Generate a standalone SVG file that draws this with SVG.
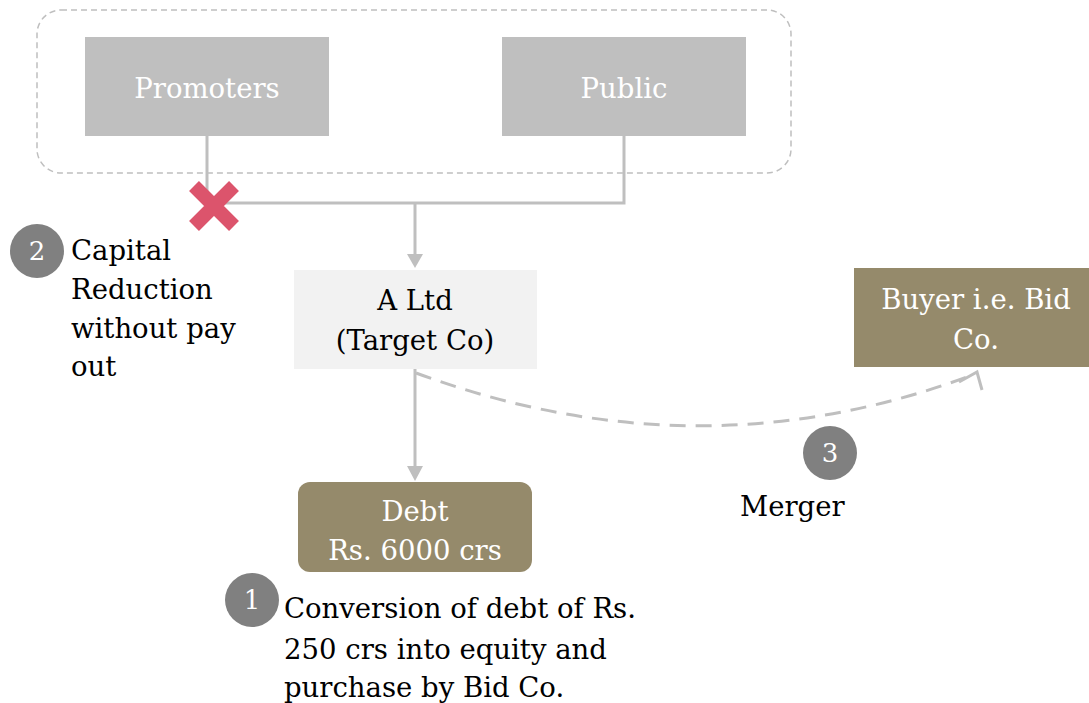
<svg xmlns="http://www.w3.org/2000/svg" width="1089" height="703" viewBox="0 0 1089 703">
  <style>
    .lbl { font-family: "DejaVu Serif", "Liberation Serif", serif; font-size: 27.5px; }
    .w { fill: #ffffff; }
    .k { fill: #000000; }
    .num { font-family: "DejaVu Serif", "Liberation Serif", serif; font-size: 26px; fill: #ffffff; text-anchor: middle; }
    .mid { text-anchor: middle; }
    .conn { fill: none; stroke: #bfbfbf; stroke-width: 3; }
    .badge { fill: #808080; }
  </style>

  <!-- shareholder grouping -->
  <rect id="holders" x="37" y="10" width="754" height="163" rx="24" fill="none" stroke="#bfbfbf" stroke-width="1.5" stroke-dasharray="6 4"/>

  <g id="connectors">
    <path class="conn" d="M207,136 V203 H624 V136"/>
    <path class="conn" d="M415,203 V258"/>
    <path d="M407,254 L423,254 L415,268 Z" fill="#bfbfbf"/>
    <path class="conn" d="M415,369 V470"/>
    <path d="M407,466 L423,466 L415,481 Z" fill="#bfbfbf"/>
    <path class="conn" d="M416,373 Q700,478 975,374" stroke-width="3.5" stroke-dasharray="16 10"/>
    <path class="conn" d="M959,382 L977,372 L982,390" stroke-width="3.5" stroke-linejoin="miter"/>
  </g>

  <g id="promoters">
    <rect x="85" y="37" width="244" height="99" fill="#bfbfbf"/>
    <text class="lbl w mid" x="207" y="98">Promoters</text>
  </g>

  <g id="public">
    <rect x="502" y="37" width="244" height="99" fill="#bfbfbf"/>
    <text class="lbl w mid" x="624" y="98">Public</text>
  </g>

  <g id="cross">
    <path d="M194,186 L234,226 M234,186 L194,226" stroke="#dc546c" stroke-width="14"/>
  </g>

  <g id="target">
    <rect x="294" y="270" width="243" height="99" fill="#f2f2f2"/>
    <text class="lbl k mid" x="415" y="310">A Ltd</text>
    <text class="lbl k mid" x="415" y="350">(Target Co)</text>
  </g>

  <g id="debt">
    <rect x="298" y="482" width="234" height="90" rx="12" fill="#958a6b"/>
    <text class="lbl w mid" x="415" y="521">Debt</text>
    <text class="lbl w mid" x="415" y="560">Rs. 6000 crs</text>
  </g>

  <g id="buyer">
    <rect x="854" y="268" width="235" height="99" fill="#958a6b"/>
    <text class="lbl w mid" x="976" y="309">Buyer i.e. Bid</text>
    <text class="lbl w mid" x="976" y="349">Co.</text>
  </g>

  <g id="step2">
    <circle class="badge" cx="37" cy="251" r="27"/>
    <text class="num" x="37" y="260">2</text>
    <text class="lbl k" x="71" y="260">Capital</text>
    <text class="lbl k" x="71" y="299">Reduction</text>
    <text class="lbl k" x="71" y="338">without pay</text>
    <text class="lbl k" x="71" y="376">out</text>
  </g>

  <g id="step1">
    <circle class="badge" cx="252" cy="600" r="27"/>
    <text class="num" x="252" y="609">1</text>
    <text class="lbl k" x="284" y="618">Conversion of debt of Rs.</text>
    <text class="lbl k" x="284" y="659">250 crs into equity and</text>
    <text class="lbl k" x="284" y="697">purchase by Bid Co.</text>
  </g>

  <g id="step3">
    <circle class="badge" cx="830" cy="453" r="27"/>
    <text class="num" x="830" y="462">3</text>
    <text class="lbl k" x="740" y="516">Merger</text>
  </g>
</svg>
